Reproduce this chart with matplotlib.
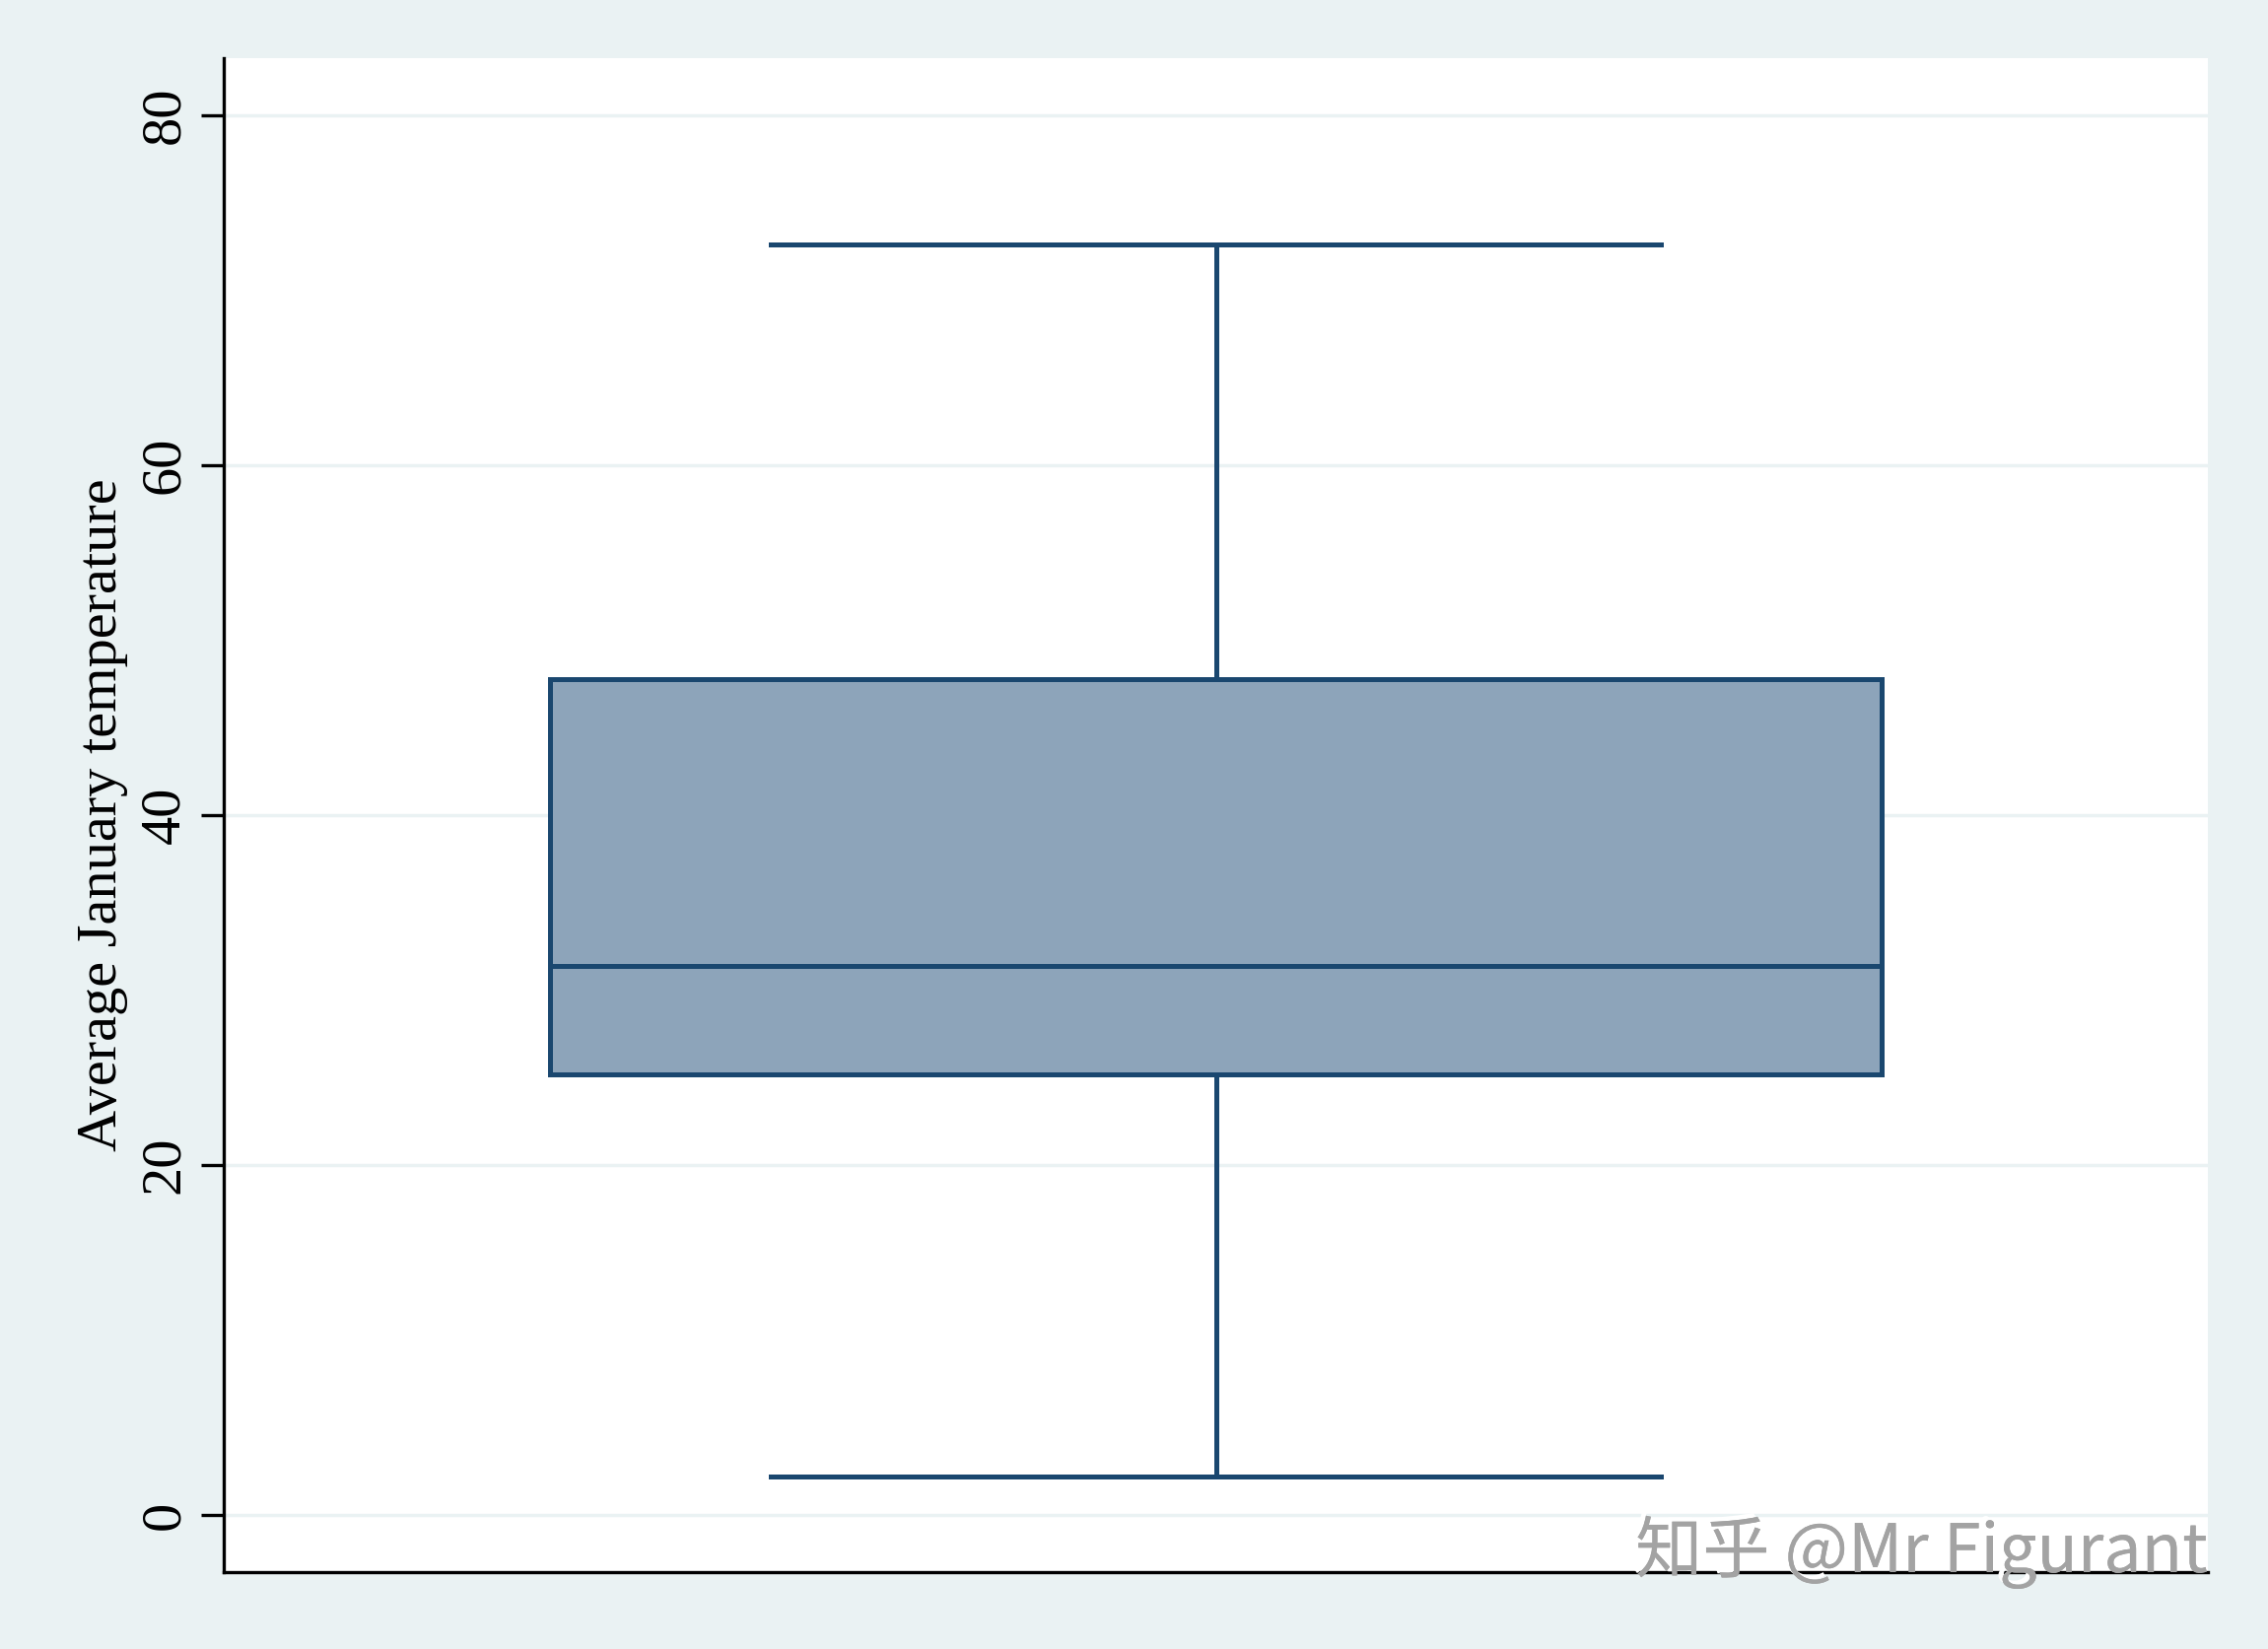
import matplotlib
matplotlib.use("Agg")
import matplotlib.pyplot as plt
import matplotlib.patheffects as pe

# Summary of tempjan
whisker_low = 2.2
q1 = 25.2
median = 31.4
q3 = 47.8
whisker_high = 72.6
y_ticks = [0, 20, 40, 60, 80]
y_label = "Average January temperature"
watermark = "知乎 @Mr Figurant"

bg = "#EAF2F3"
navy = "#1A476F"
fill = "#8DA4BA"

plt.rcParams['font.family'] = ['Liberation Serif', 'DejaVu Serif']

fig = plt.figure(figsize=(23.01, 16.73), dpi=100, facecolor=bg)
ax = fig.add_axes([227 / 2301, 1 - 1595 / 1673, (2240 - 227) / 2301, (1595 - 59) / 1673])
ax.set_facecolor("white")

stats = [{
    "whislo": whisker_low, "q1": q1, "med": median, "q3": q3, "whishi": whisker_high,
    "fliers": [], "label": "",
}]
ax.bxp(stats, positions=[0.5], widths=0.671, patch_artist=True, showfliers=False,
       boxprops=dict(facecolor=fill, edgecolor=navy, linewidth=3.6),
       medianprops=dict(color=navy, linewidth=3.6),
       whiskerprops=dict(color=navy, linewidth=3.6),
       capprops=dict(color=navy, linewidth=3.6), capwidths=0.449)

ax.set_xlim(0, 1)
ax.set_ylim(-3.27, 83.27)
ax.set_yticks(y_ticks)
ax.set_yticklabels([str(t) for t in y_ticks], rotation=90, va="center")
ax.set_xticks([])
ax.tick_params(axis="y", length=16.5, width=2.4, pad=8, labelsize=42)
ax.yaxis.grid(True, color=bg, linewidth=2.5)
ax.set_axisbelow(True)
for s in ["top", "right"]:
    ax.spines[s].set_visible(False)
for s in ["left", "bottom"]:
    ax.spines[s].set_linewidth(2.4)
ax.set_ylabel(y_label, fontsize=42, labelpad=8)

fig.text(2240 / 2301, 1 - 1595 / 1673, watermark, ha="right", va="baseline",
         fontsize=49, color="#A3A3A3",
         family=['Noto Sans CJK SC', 'DejaVu Sans'],
         path_effects=[pe.withSimplePatchShadow(offset=(-3, 3), shadow_rgbFace="white", alpha=1),
                       pe.Normal()])

fig.savefig("out.png", dpi=100, facecolor=bg)
